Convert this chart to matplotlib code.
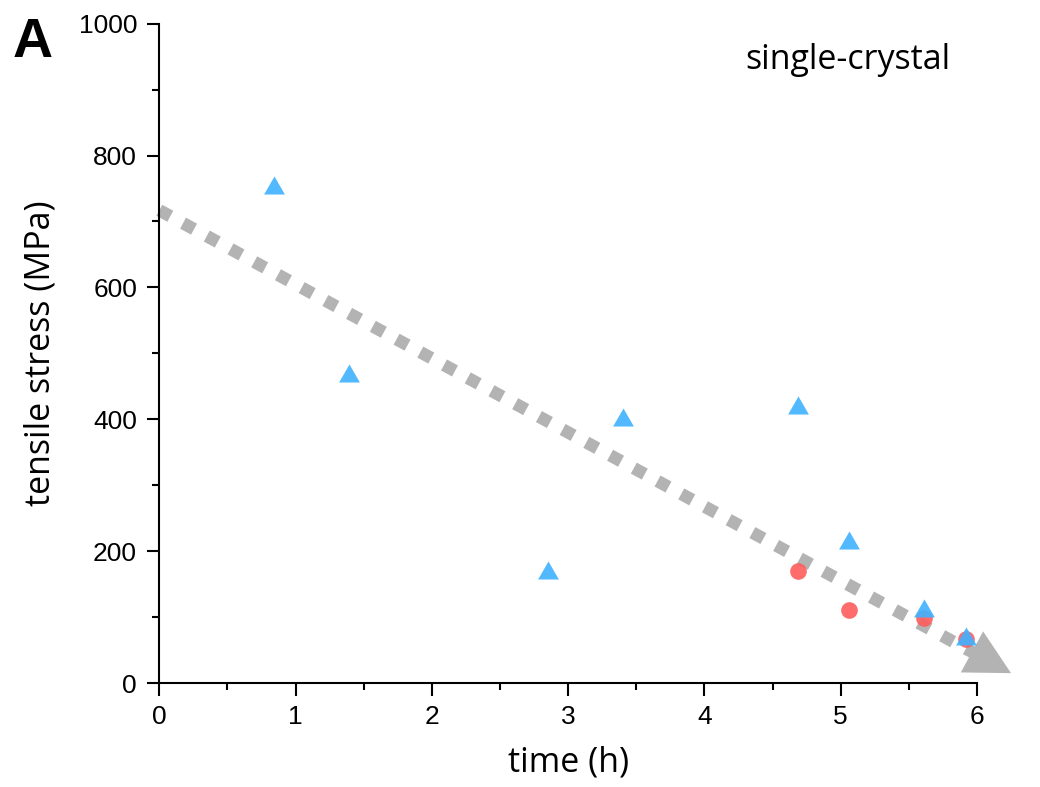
import numpy as np
import matplotlib
matplotlib.use('Agg')
import matplotlib.pyplot as plt
from matplotlib.ticker import MultipleLocator

# blue triangles
tri_time = [0.84, 1.39, 2.85, 3.40, 4.69, 5.06, 5.61, 5.92]
tri_stress = [755, 470, 171, 403, 422, 217, 114, 71]
# red circles
circ_time = [4.69, 5.06, 5.61, 5.92]
circ_stress = [170, 111, 98, 67]
# trend arrow (start, tip)
trend_time = [0.0, 6.25]
trend_stress = [717, 15]

label_font = 'Open Sans'
tick_font = 'Liberation Sans'

fig = plt.figure(figsize=(10.4, 7.87), dpi=100)
ax = fig.add_axes([0.1532, 0.1321, 0.7862, 0.8378])

gray = '#b3b3b3'
# dashed shaft stops under the head
frac = 0.955
x_end = trend_time[0] + frac * (trend_time[1] - trend_time[0])
y_end = trend_stress[0] + frac * (trend_stress[1] - trend_stress[0])
ax.plot([trend_time[0], x_end], [trend_stress[0], y_end], color=gray, lw=9,
        ls=(0, (1.0, 1.16)), dash_capstyle='butt', clip_on=False, zorder=1)
ax.annotate('', xy=(trend_time[1], trend_stress[1]), xytext=(x_end, y_end),
            arrowprops=dict(arrowstyle='-|>,head_length=0.8,head_width=0.42',
                            mutation_scale=40, lw=0, color=gray,
                            shrinkA=0, shrinkB=0),
            annotation_clip=False, zorder=1)

# equilateral up-triangle
tri_marker = [(-1, -0.866), (1, -0.866), (0, 0.866), (-1, -0.866)]

ax.plot(circ_time, circ_stress, 'o', ms=12, color='#ff5c5c', mec='none',
        alpha=0.9, clip_on=False, zorder=3)
ax.plot(tri_time, tri_stress, marker=tri_marker, ls='none', ms=15,
        color='#3fb2ff', mec='none', alpha=0.9, clip_on=False, zorder=4)

ax.set_xlim(0, 6)
ax.set_ylim(0, 1000)
ax.xaxis.set_major_locator(MultipleLocator(1))
ax.xaxis.set_minor_locator(MultipleLocator(0.5))
ax.yaxis.set_major_locator(MultipleLocator(200))
ax.yaxis.set_minor_locator(MultipleLocator(100))

for s in ['top', 'right']:
    ax.spines[s].set_visible(False)
for s in ['left', 'bottom']:
    ax.spines[s].set_linewidth(1.5)

ax.tick_params(which='major', direction='out', length=9, width=1.5,
               labelsize=19, pad=7)
ax.tick_params(which='minor', direction='out', length=5, width=1.5)
for lab in ax.get_xticklabels() + ax.get_yticklabels():
    lab.set_fontfamily(tick_font)

ax.set_xlabel('time (h)', fontsize=24.5, fontfamily=label_font, labelpad=12)
ax.set_ylabel('tensile stress (MPa)', fontsize=24.5, fontfamily=label_font, labelpad=15)

ax.text(5.05, 945, 'single-crystal', fontsize=24.5, fontfamily=label_font,
        ha='center', va='center')
fig.text(0.012, 0.945, 'A', fontsize=40, fontweight='bold',
         fontfamily=tick_font, ha='left', va='center')

fig.savefig('out.png', dpi=100)
